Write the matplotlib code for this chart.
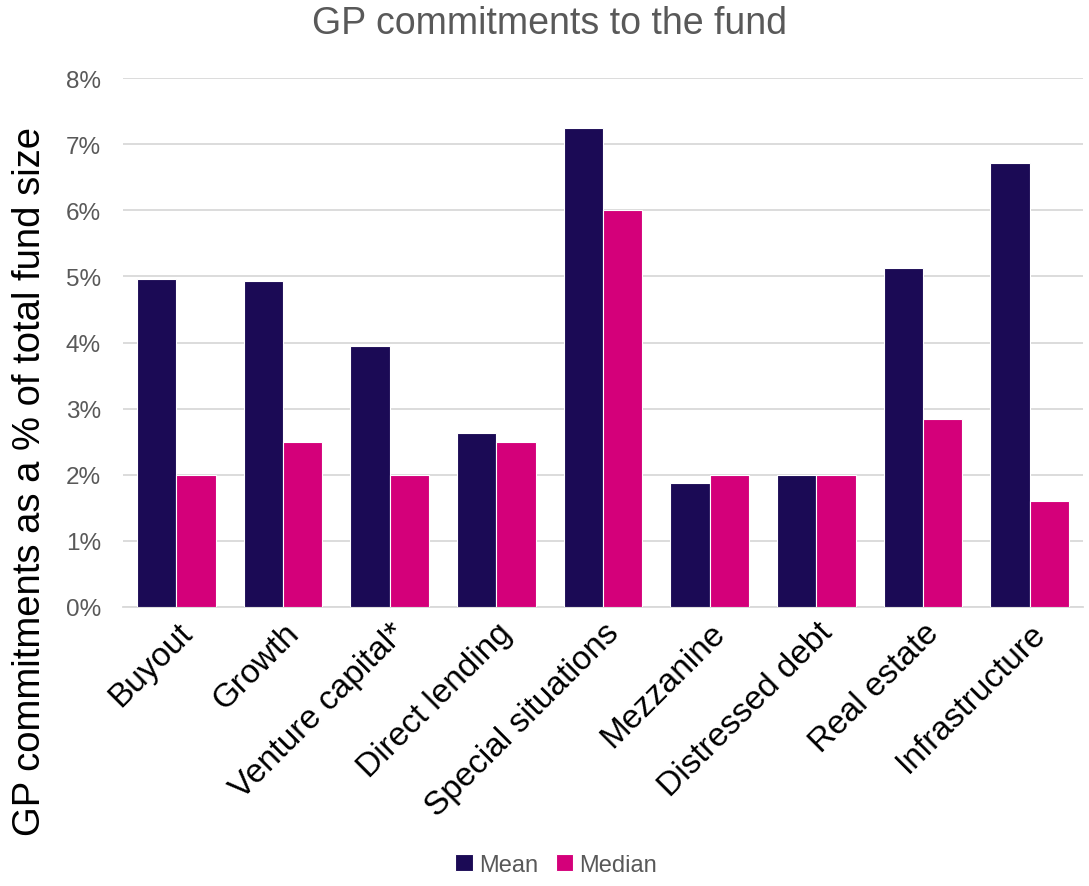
import matplotlib
matplotlib.use('Agg')

import numpy as np
import matplotlib.pyplot as plt
from matplotlib.ticker import FuncFormatter

categories = ['Buyout', 'Growth', 'Venture capital*', 'Direct lending',
              'Special situations', 'Mezzanine', 'Distressed debt',
              'Real estate', 'Infrastructure']
mean = [4.96, 4.93, 3.95, 2.63, 7.24, 1.87, 2.0, 5.13, 6.71]
median = [2.0, 2.5, 2.0, 2.5, 6.0, 2.0, 2.0, 2.85, 1.6]

plt.rcParams['font.family'] = ['Liberation Sans', 'DejaVu Sans']

fig = plt.figure(figsize=(10.89, 8.87), dpi=100)
ax = fig.add_axes([123 / 1089, 1 - 608 / 887, 960 / 1089, 529 / 887])

x = np.arange(len(categories))
w = 0.37
ax.bar(x - w / 2, mean, w, color='#1B0A55', edgecolor='white', linewidth=0.8,
       label='Mean', zorder=3)
ax.bar(x + w / 2, median, w, color='#D4007A', edgecolor='white', linewidth=0.8,
       label='Median', zorder=3)

ax.set_xlim(-0.5, len(categories) - 0.5)
ax.set_ylim(0, 8)
ax.set_yticks(range(0, 9))
ax.yaxis.set_major_formatter(FuncFormatter(lambda v, p: '%d%%' % v))
ax.grid(axis='y', color='#D9D9D9', linewidth=1.3, zorder=0)
for s in ['top', 'right', 'left']:
    ax.spines[s].set_visible(False)
ax.spines['bottom'].set_color('#D9D9D9')
ax.spines['bottom'].set_linewidth(1.3)
ax.tick_params(axis='y', length=0, labelsize=17.5, labelcolor='#595959', pad=16)
ax.tick_params(axis='x', length=0, labelsize=24, pad=7)
ax.set_xticks(x)
ax.set_xticklabels(categories, rotation=45, ha='right', rotation_mode='anchor')

fig.text(30 / 1089, 1 - 482 / 887, 'GP commitments as a % of total fund size',
         rotation=90, ha='center', va='center', fontsize=27.5)
fig.text(549 / 1089, 1 - 24 / 887, 'GP commitments to the fund', ha='center',
         va='center', fontsize=27, color='#595959')

fig.legend(loc='center', bbox_to_anchor=(556 / 1089, 1 - 866 / 887), ncol=2,
           frameon=False, fontsize=17, labelcolor='#595959', handlelength=0.75,
           handleheight=0.75, handletextpad=0.25, columnspacing=0.75)

fig.savefig('out.png', dpi=100)
